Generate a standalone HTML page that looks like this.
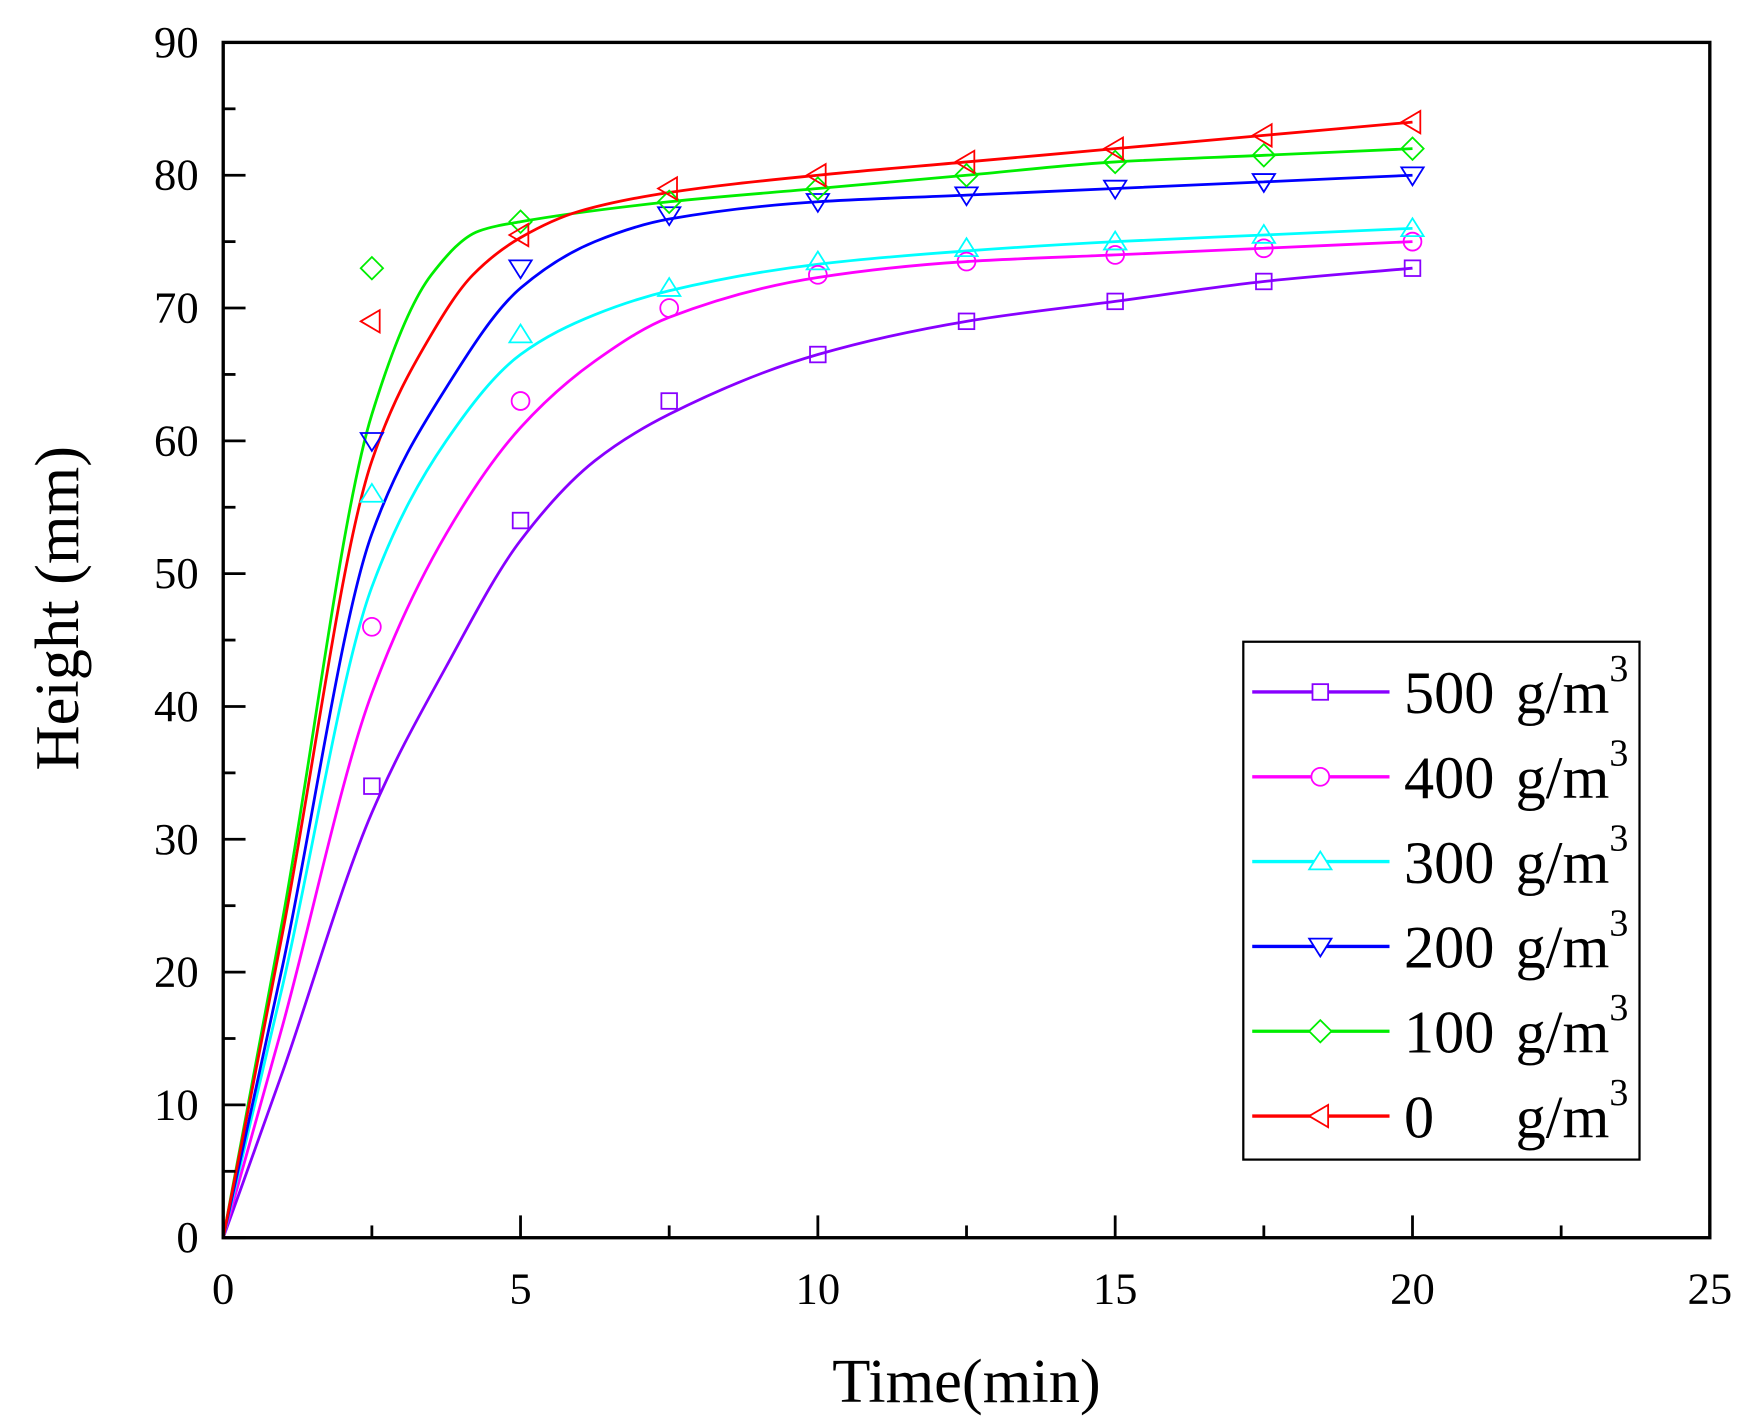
<!DOCTYPE html>
<html><head><meta charset="utf-8"><style>html,body{margin:0;padding:0;background:#fff}svg{display:block}</style></head>
<body>
<svg id="s" width="1750" height="1426" viewBox="0 0 1568 1277.7" xmlns="http://www.w3.org/2000/svg" font-family="Liberation Serif, serif">
<rect x="0" y="0" width="1568" height="1278" fill="#fff"/>
<g id="curves"></g>
<g id="marks"></g>
<rect x="200" y="38" width="1332" height="1071" fill="none" stroke="#000" stroke-width="3"/>
<g id="ticks" stroke="#000" stroke-width="2.5"></g>
<g font-size="40" text-anchor="middle" id="xl"></g>
<g font-size="40" text-anchor="end" id="yl"></g>
<text x="866" y="1256" font-size="56" text-anchor="middle">Time(min)</text>
<text transform="translate(70,545) rotate(-90)" font-size="56" text-anchor="middle">Height (mm)</text>
<rect x="1114" y="575" width="355" height="464" fill="#fff" stroke="#000" stroke-width="2"/>
<g id="leg"></g>
</svg>
<script>
const NS="http://www.w3.org/2000/svg";
const X=t=>200+t*53.28, Y=v=>1109-v*11.9;
function el(p,tag,a,txt){const e=document.createElementNS(NS,tag);for(const k in a)e.setAttribute(k,a[k]);if(txt!==undefined)e.textContent=txt;document.getElementById(p).appendChild(e);return e;}
for(let t=0;t<=25;t+=2.5){const maj=t%5===0;el('ticks','line',{x1:X(t),x2:X(t),y1:1109,y2:1109-(maj?20:11)});}
for(let v=0;v<=90;v+=5){const maj=v%10===0;el('ticks','line',{x1:200,x2:200+(maj?20:11),y1:Y(v),y2:Y(v)});}
for(let t=0;t<=25;t+=5)el('xl','text',{x:X(t),y:1168},String(t));
for(let v=0;v<=90;v+=10)el('yl','text',{x:178,y:Y(v)+13},String(v));
const S=[
{c:'#8800ff',m:'sq',lab:'500',pts:[0,34,54,63,66.5,69,70.5,72,73],cv:[[0,0],[1,12.5],[2.5,32],[3.75,43],[5,52.5],[6.25,58.5],[7.5,62],[10,66.5],[12.5,69],[15,70.5],[17.5,72],[20,73]]},
{c:'#ff00ff',m:'ci',lab:'400',pts:[0,46,63,70,72.5,73.5,74,74.5,75],cv:[[0,0],[1,16],[2.5,41],[3.75,53],[5,61],[6.25,66],[7.5,69.3],[10,72.3],[12.5,73.5],[15,74],[17.5,74.5],[20,75]]},
{c:'#00ffff',m:'up',lab:'300',pts:[0,56,68,71.5,73.5,74.5,75,75.5,76],cv:[[0,0],[1,19],[2.5,49],[3.75,60],[5,66.5],[6.25,69.5],[7.5,71.3],[10,73.3],[12.5,74.3],[15,75],[17.5,75.5],[20,76]]},
{c:'#0000ff',m:'dn',lab:'200',pts:[0,60,73,77,78,78.5,79,79.5,80],cv:[[0,0],[1,20.5],[2.5,53],[3.75,64],[5,71.5],[6.25,75],[7.5,76.7],[10,78],[12.5,78.5],[15,79],[17.5,79.5],[20,80]]},
{c:'#00ee00',m:'di',lab:'100',pts:[0,73,76.5,78,79,80,81,81.5,82],cv:[[0,0],[1,24],[2.5,62],[3.5,72.5],[4.3,75.8],[5,76.5],[7.5,78],[10,79],[12.5,80],[15,81],[17.5,81.5],[20,82]]},
{c:'#ff0000',m:'le',lab:'0',pts:[0,69,75.5,79,80,81,82,83,84],cv:[[0,0],[1,23],[2.5,58.5],[3.5,68],[4.2,72.5],[5,75.3],[6,77.3],[7.5,78.7],[10,80],[12.5,81],[15,82],[17.5,83],[20,84]]}
];
function mono(p){const n=p.length,x=p.map(q=>q[0]),y=p.map(q=>q[1]);const d=[],m=[];
 for(let i=0;i<n-1;i++)d.push((y[i+1]-y[i])/(x[i+1]-x[i]));
 m[0]=d[0];m[n-1]=d[n-2];
 for(let i=1;i<n-1;i++){if(d[i-1]*d[i]<=0)m[i]=0;else{const w1=2*(x[i+1]-x[i])+(x[i]-x[i-1]),w2=(x[i+1]-x[i])+2*(x[i]-x[i-1]);m[i]=(w1+w2)/(w1/d[i-1]+w2/d[i]);}}
 let s='M'+X(x[0])+','+Y(y[0]);
 for(let i=0;i<n-1;i++){const h=x[i+1]-x[i];
  s+=` C${X(x[i]+h/3)},${Y(y[i]+m[i]*h/3)} ${X(x[i+1]-h/3)},${Y(y[i+1]-m[i+1]*h/3)} ${X(x[i+1])},${Y(y[i+1])}`;}
 return s;}
function mk(g,t,x,y,c){const a={fill:'none',stroke:c,'stroke-width':1.6};
 if(t==='sq')return el(g,'rect',Object.assign({x:x-7,y:y-7,width:14,height:14},a));
 if(t==='ci')return el(g,'circle',Object.assign({cx:x,cy:y,r:8},a));
 let p;
 if(t==='up')p=[[x,y-9],[x+10,y+7],[x-10,y+7]];
 if(t==='dn')p=[[x,y+9],[x+10,y-7],[x-10,y-7]];
 if(t==='di')p=[[x,y-10],[x+10,y],[x,y+10],[x-10,y]];
 if(t==='le')p=[[x-10,y],[x+7,y-10],[x+7,y+10]];
 return el(g,'polygon',Object.assign({points:p.map(q=>q.join(',')).join(' ')},a));}
S.forEach((s,i)=>{
 el('curves','path',{d:mono(s.cv),fill:'none',stroke:s.c,'stroke-width':2.5});
 s.pts.forEach((v,j)=>{if(j>0)mk('marks',s.m,X(j*2.5),Y(v),s.c);});
 const y=620+i*76;
 el('leg','line',{x1:1122,x2:1245,y1:y,y2:y,stroke:s.c,'stroke-width':3});
 const w=mk('leg',s.m,1183,y,s.c);w.setAttribute('fill','#fff');
 el('leg','text',{x:1258,y:y+19,'font-size':54},s.lab);
 el('leg','text',{x:1358,y:y+19,'font-size':54},'g/m');
 el('leg','text',{x:1442,y:y-10,'font-size':34},'3');
});
</script>
</body></html>
